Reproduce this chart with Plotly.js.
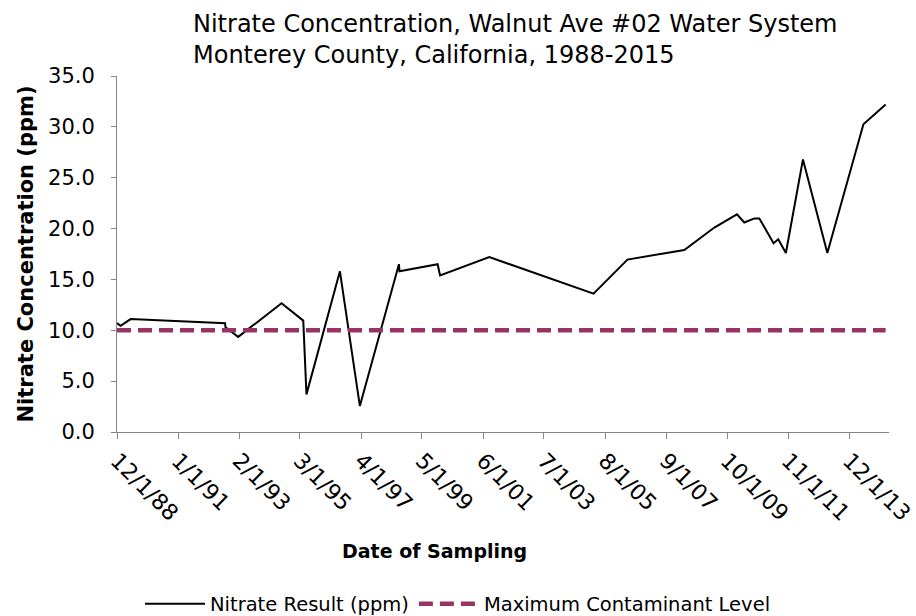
<!DOCTYPE html>
<html>
<head>
<meta charset="utf-8">
<script src="https://cdn.plot.ly/plotly-3.0.1.min.js"></script>
<style>html,body{margin:0;padding:0;background:#fff;}#chart{width:916px;height:616px;}</style>
</head>
<body>
<div id="chart"></div>
<script>
// Sampling dates and nitrate results (ppm)
var sampleDates = [
  "1988-12-01","1989-01-15","1989-05-20","1992-08-10","1992-08-15","1993-01-20",
  "1994-07-15","1995-04-12","1995-05-22","1996-07-12","1997-03-18","1998-07-18",
  "1998-07-25","1999-11-13","1999-12-13","2001-08-18","2005-03-10","2006-05-07",
  "2008-04-15","2009-04-25","2010-02-01","2010-05-03","2010-09-07","2010-11-07",
  "2011-05-03","2011-07-01","2011-10-04","2012-05-04","2013-03-04","2014-05-28",
  "2015-03-01"
];
var nitrateValues = [
  10.7,10.45,11.1,10.7,10.3,9.35,
  12.65,10.95,3.7,15.8,2.55,16.5,
  15.8,16.5,15.4,17.2,13.6,16.95,
  17.9,20.1,21.4,20.6,21.0,21.0,
  18.55,18.95,17.6,26.8,17.6,30.25,
  32.2
];
// Maximum contaminant level
var mclDates = ["1988-12-01","2015-03-01"];
var mclValues = [10,10];
// x tick positions and labels
var xTickVals = ["1988-12-01","1991-01-01","1993-02-01","1995-03-01","1997-04-01","1999-05-01",
  "2001-06-01","2003-07-01","2005-08-01","2007-09-01","2009-10-01","2011-11-01","2013-12-01"];
var xTickText = ["12/1/88","1/1/91","2/1/93","3/1/95","4/1/97","5/1/99",
  "6/1/01","7/1/03","8/1/05","9/1/07","10/1/09","11/1/11","12/1/13"];
var yTickVals = [0,5,10,15,20,25,30,35];

var FONT = "DejaVu Sans, Open Sans, sans-serif";

var traces = [
  {
    x: sampleDates, y: nitrateValues, type: "scatter", mode: "lines",
    name: "Nitrate Result (ppm)",
    line: {color: "#000000", width: 2}
  },
  {
    x: mclDates, y: mclValues, type: "scatter", mode: "lines",
    name: "Maximum Contaminant Level",
    line: {color: "#993366", width: 4.5, dash: "14px,7px"}
  }
];

var layout = {
  width: 916, height: 616,
  paper_bgcolor: "#ffffff", plot_bgcolor: "#ffffff",
  margin: {l: 117, r: 27, t: 76, b: 184},
  font: {family: FONT, color: "#000000"},
  title: {
    text: "Nitrate Concentration, Walnut Ave #02 Water System<br>Monterey County, California, 1988-2015",
    font: {family: FONT, size: 24, color: "#000000"},
    xref: "container", yref: "container",
    x: 193/916, xanchor: "left",
    y: 1 - 32/616, yanchor: "top"
  },
  xaxis: {
    type: "date",
    range: ["1988-12-01", "2015-04-12"],
    tickmode: "array", tickvals: xTickVals, ticktext: xTickText,
    tickangle: 45,
    tickfont: {family: FONT, size: 22, color: "#000000"},
    showgrid: false, zeroline: false,
    showline: true, linecolor: "#868686", linewidth: 1,
    ticks: "outside", ticklen: 6, tickcolor: "#868686"
  },
  yaxis: {
    range: [0, 35],
    tickmode: "array", tickvals: yTickVals,
    tickformat: ".1f",
    tickfont: {family: FONT, size: 21, color: "#000000"},
    ticklabelstandoff: 12,
    showgrid: false, zeroline: false,
    showline: true, linecolor: "#868686", linewidth: 1,
    ticks: "outside", ticklen: 5, tickcolor: "#868686",
    title: {text: "<b>Nitrate Concentration (ppm)</b>", font: {family: FONT, size: 21, color: "#000000"}, standoff: 8}
  },
  showlegend: true,
  legend: {
    orientation: "h",
    xref: "container", yref: "container",
    x: 0.5, xanchor: "center",
    y: 12/616, yanchor: "middle",
    font: {family: FONT, size: 19.5, color: "#000000"},
    itemwidth: 60,
    tracegroupgap: 0
  },
  annotations: [
    {
      text: "<b>Date of Sampling</b>",
      xref: "paper", yref: "paper",
      x: (434-117)/772, y: (432-551)/356,
      xanchor: "center", yanchor: "middle",
      showarrow: false,
      font: {family: FONT, size: 19, color: "#000000"}
    }
  ]
};

Plotly.newPlot("chart", traces, layout, {displayModeBar: false, staticPlot: true});
</script>
</body>
</html>
